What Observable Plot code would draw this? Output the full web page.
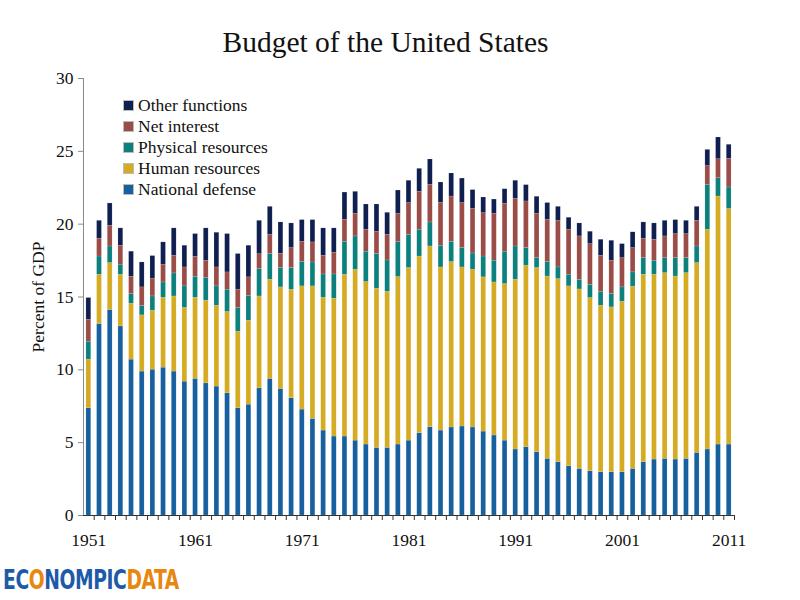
<!DOCTYPE html>
<html>
<head>
<meta charset="utf-8">
<script src="https://cdn.jsdelivr.net/npm/d3@7"></script>
<script src="https://cdn.jsdelivr.net/npm/@observablehq/plot@0.6"></script>
<style>
  html, body { margin: 0; padding: 0; background: #fff; }
  body { width: 800px; height: 600px; position: relative; overflow: hidden; font-family: "Liberation Serif", serif; }
  #title { height: 60px; width: 771px; text-align: center; font-size: 29.5px; line-height: 30px; padding-top: 27px; box-sizing: border-box; color: #111; }
  #legend { position: absolute; left: 123px; top: 95px; font-size: 17.5px; color: #111; }
  #legend .row { height: 21px; line-height: 21px; display: flex; align-items: center; }
  #legend .sw { width: 9px; height: 9px; border: 1px solid #bbb; margin-right: 4px; }
  #logo { position: absolute; left: 3px; top: 565px; font-family: "Liberation Sans Narrow", "DejaVu Sans Condensed", sans-serif; font-weight: bold; font-size: 26px; letter-spacing: -0.5px; transform: scaleX(0.8); transform-origin: left; }
  #logo .b { color: #1d5aa8; }
  #logo .o { color: #e8870f; }
</style>
</head>
<body>
<div id="title">Budget of the United States</div>
<div id="chart"></div>
<div id="legend"></div>
<div id="logo"><span class="b">EC</span><span class="o">O</span><span class="b">NOMPIC</span><span class="o">DATA</span></div>
<script>
const years = d3.range(1951, 2012);
const categories = ["National defense", "Human resources", "Physical resources", "Net interest", "Other functions"];
const colors = ["#17609f", "#d4ab22", "#0c807c", "#9a4c46", "#0f1f50"];
const yTicks = [0, 5, 10, 15, 20, 25, 30];
const labelYears = [1951, 1961, 1971, 1981, 1991, 2001, 2011];

const nationalDefense = [7.36,13.15,14.11,12.98,10.70,9.88,10.01,10.15,9.88,9.19,
  9.38,9.07,8.85,8.39,7.36,7.61,8.73,9.38,8.69,8.05,
  7.27,6.63,5.83,5.42,5.42,5.14,4.87,4.64,4.64,4.87,
  5.14,5.65,6.06,5.83,6.04,6.11,6.04,5.76,5.49,5.14,
  4.53,4.69,4.34,3.89,3.66,3.38,3.20,3.04,2.97,2.97,
  2.97,3.20,3.66,3.84,3.89,3.84,3.89,4.30,4.53,4.87,4.87];
const humanResources = [3.34,3.38,3.22,3.55,3.84,3.86,4.05,4.80,5.16,5.06,
  5.57,5.68,5.55,5.58,5.26,5.76,6.31,6.81,6.97,7.45,
  8.46,9.10,9.12,9.46,11.11,11.73,11.16,10.93,10.72,11.50,
  11.85,12.13,12.41,11.20,11.36,10.92,10.83,10.59,10.51,10.75,
  11.66,12.46,12.65,12.52,12.57,12.35,12.32,11.89,11.43,11.32,
  11.71,12.51,12.87,12.69,12.75,12.57,12.75,13.03,15.09,17.03,16.17];
const physicalResources = [1.23,1.25,1.14,0.69,0.66,0.64,0.98,1.05,1.58,1.48,
  1.44,1.57,1.33,1.53,1.63,1.70,1.88,1.76,1.33,1.49,
  1.69,1.64,1.60,1.67,2.26,2.29,2.08,2.38,2.15,2.40,
  2.28,1.84,1.65,1.49,1.39,1.33,1.12,1.43,1.49,2.22,
  2.28,1.21,0.68,0.99,0.80,0.80,0.65,0.91,0.96,0.91,
  0.98,0.98,1.14,0.96,1.03,1.26,1.03,1.14,3.08,1.26,1.48];
const netInterest = [1.51,1.22,1.42,1.30,1.19,1.28,1.22,1.22,1.21,1.30,
  1.37,1.17,1.30,1.19,1.25,1.28,1.02,1.32,0.98,1.37,
  1.37,1.38,1.28,1.49,1.51,1.55,1.51,1.53,1.76,1.94,
  2.18,2.60,2.58,2.95,3.11,3.09,3.07,2.98,3.22,3.29,
  3.27,3.20,3.04,2.90,3.20,3.09,2.99,2.79,2.47,2.29,
  2.01,1.67,1.33,1.44,1.49,1.65,1.65,1.76,1.29,1.30,1.97];
const otherFunctions = [1.49,1.23,1.53,1.19,1.72,1.71,1.55,1.53,1.88,1.49,
  1.56,2.22,2.38,2.63,2.45,2.17,2.29,1.92,2.15,1.69,
  1.49,1.53,1.88,1.67,1.87,1.51,1.73,1.87,1.51,1.60,
  1.53,1.58,1.74,1.39,1.58,1.68,1.28,1.07,0.98,1.00,
  1.24,1.12,1.17,1.15,0.96,0.82,0.89,0.85,1.10,1.37,
  0.96,1.08,1.12,1.12,1.07,0.96,0.91,0.96,1.11,1.49,0.96];

const series = [nationalDefense, humanResources, physicalResources, netInterest, otherFunctions];
const table = [];
years.forEach((yr, i) => {
  categories.forEach((c, k) => table.push({year: yr, category: c, value: series[k][i]}));
});

const W = 800, H = 500, mL = 83, mR = 66, mT = 18, mB = 45;
const step = (W - mL - mR) / years.length;

const chart = Plot.plot({
  width: W, height: H,
  marginLeft: mL, marginRight: mR, marginTop: mT, marginBottom: mB,
  style: {fontFamily: "'Liberation Serif', serif", fontSize: "17px", color: "#111", background: "white", overflow: "visible"},
  x: {type: "band", domain: years, paddingInner: 0.55, paddingOuter: 0.275, axis: null},
  y: {domain: [0, 30], axis: null},
  color: {domain: categories, range: colors},
  marks: [
    Plot.barY(table, {x: "year", y: "value", fill: "category", order: categories, stroke: "#ffffff", strokeOpacity: 0.25, strokeWidth: 0.5}),
    Plot.frame({anchor: "left", stroke: "#8a8a8a"}),
    Plot.axisY({ticks: yTicks, tickSize: 5, tickPadding: 5, stroke: "#8a8a8a", label: "Percent of GDP", labelAnchor: "center", labelArrow: "none", labelOffset: 52, fontSize: 17.5}),
    Plot.ruleY([0], {stroke: "#333"}),
    Plot.axisX({ticks: years, tickFormat: () => "", tickSize: 5, dx: step / 2, stroke: "#333", label: null}),
    Plot.axisX({ticks: labelYears, tickFormat: (d) => String(d), tickSize: 0, tickPadding: 18, label: null, fontSize: 17.5})
  ]
});
document.getElementById("chart").appendChild(chart);

const legend = document.getElementById("legend");
categories.slice().reverse().forEach((c) => {
  const k = categories.indexOf(c);
  const row = document.createElement("div");
  row.className = "row";
  const sw = document.createElement("span");
  sw.className = "sw";
  sw.style.background = colors[k];
  const t = document.createElement("span");
  t.textContent = c;
  row.appendChild(sw);
  row.appendChild(t);
  legend.appendChild(row);
});
</script>
</body>
</html>
